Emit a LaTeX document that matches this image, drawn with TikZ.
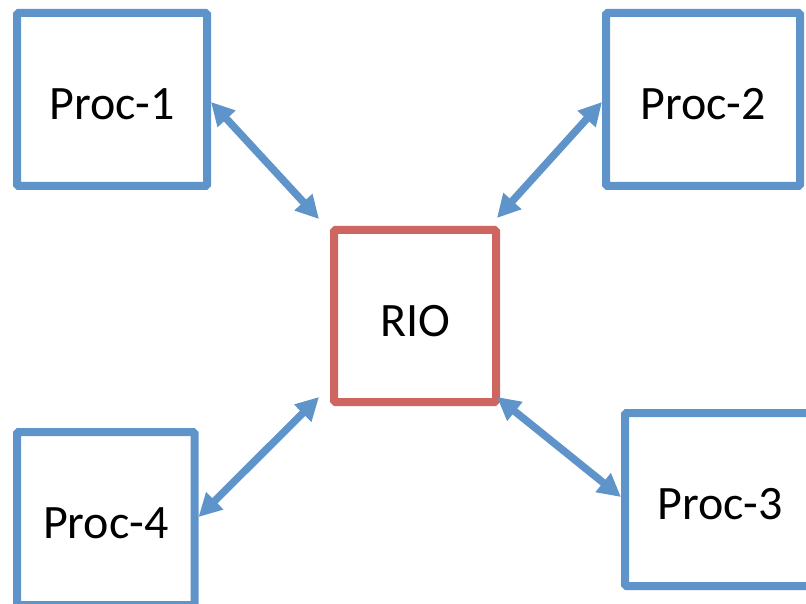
\documentclass[tikz,border=0pt]{standalone}
\usepackage{fontspec}
\setmainfont{Carlito}
\usetikzlibrary{arrows.meta}
\definecolor{procblue}{HTML}{5E94CA}
\definecolor{riored}{HTML}{CD6660}
\begin{document}
\begin{tikzpicture}[x=1pt,y=-1pt,
  box/.style={draw, line width=8pt, rounded corners=1.5pt, fill=white,
    font=\fontsize{48}{58}\selectfont, inner sep=0pt, text height=40pt, text depth=0pt},
  procbox/.style={box, draw=procblue, minimum width=194pt, minimum height=173pt},
  link/.style={draw=procblue, line width=7.5pt,
    {Triangle[length=23pt,width=23pt]}-{Triangle[length=23pt,width=23pt]}}]
  \clip (0,0) rectangle (806,604);
  \fill[white] (0,0) rectangle (806,604);

  % processors and the shared RIO block
  \node[procbox, minimum width=190pt] (p1) at (112,99.5) {Proc-1};
  \node[procbox] (p2) at (703,99.5) {Proc-2};
  \node[procbox, minimum width=190pt] (p3) at (720,499.5) {Proc-3};
  \node[procbox, minimum width=177.5pt] (p4) at (105.75,518.5) {Proc-4};
  \node[box, draw=riored, minimum width=162pt, minimum height=172pt] (rio) at (415,316) {RIO};

  % bidirectional links, ending just off the corners of RIO
  \draw[link] ([yshift=-2.5pt]p1.east) -- ([xshift=-11pt,yshift=7pt]rio.north west);
  \draw[link] ([yshift=-2.5pt]p2.west) -- ([xshift=-3pt,yshift=8pt]rio.north east);
  \draw[link] ([xshift=-11pt,yshift=9pt]rio.south west) -- ([yshift=1.5pt]p4.east);
  \draw[link] ([xshift=-3pt,yshift=9pt]rio.south east) -- ([yshift=2.5pt]p3.west);
\end{tikzpicture}
\end{document}
